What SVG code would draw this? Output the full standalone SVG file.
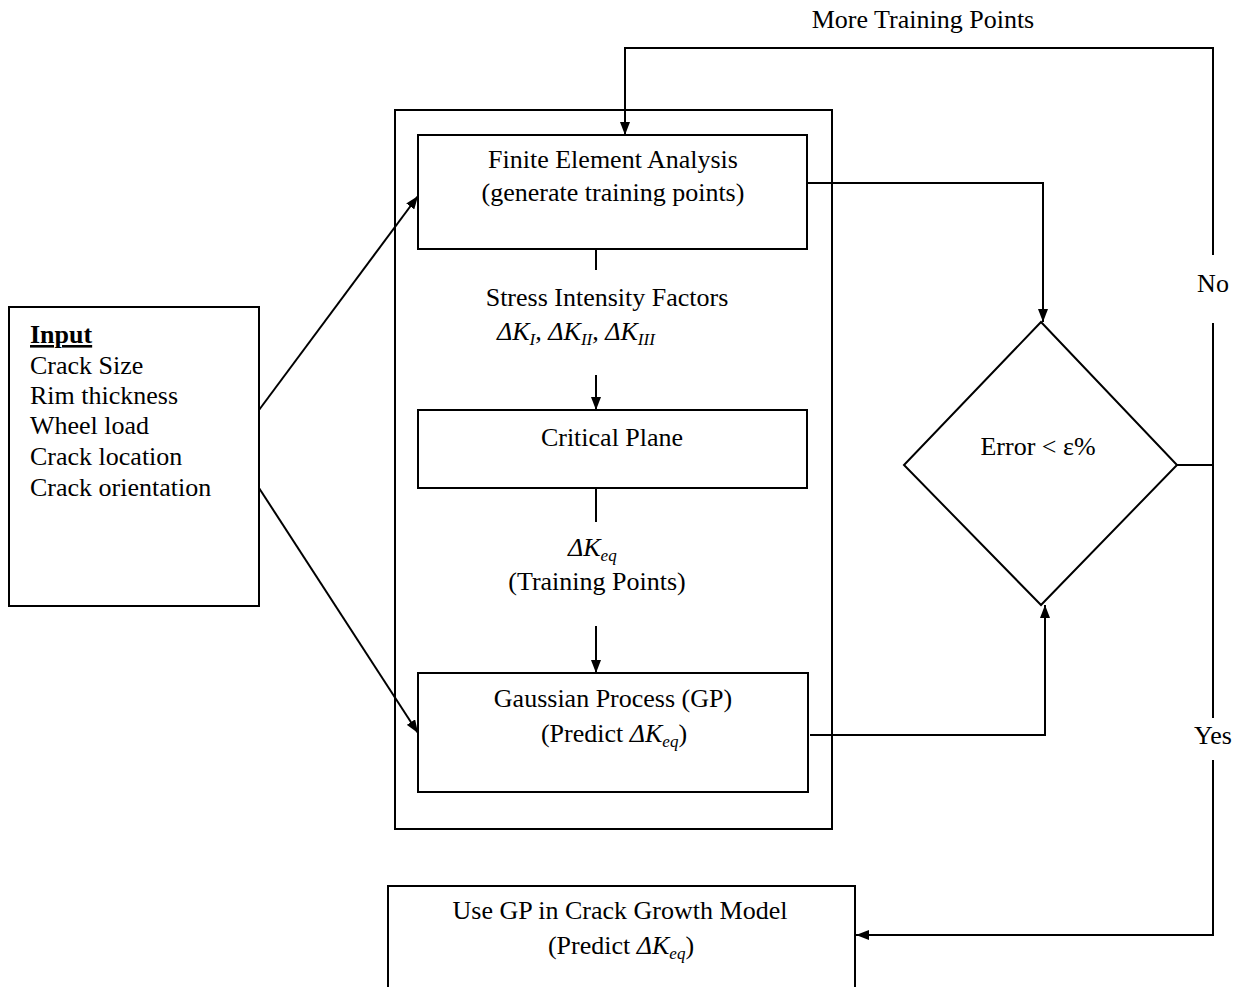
<svg xmlns="http://www.w3.org/2000/svg" width="1249" height="987" viewBox="0 0 1249 987">
  <style>
    .box { fill: #fff; stroke: #000; stroke-width: 2; }
    .ln { fill: none; stroke: #000; stroke-width: 2; }
    .t { font-family: 'Liberation Serif', 'Times New Roman', Times, 'DejaVu Serif', serif; font-size: 26px; fill: #000; }
    .c { text-anchor: middle; }
    .i { font-style: italic; }
    .sub { font-size: 17px; font-style: italic; }
  </style>
  <defs>
    <marker id="arr" viewBox="0 0 13 10" refX="13" refY="5" markerWidth="13" markerHeight="10" markerUnits="userSpaceOnUse" orient="auto">
      <path d="M0,0 L13,5 L0,10 Z" fill="#000"/>
    </marker>
  </defs>
  <rect width="1249" height="987" fill="#fff"/>

  <!-- enclosing frame around the surrogate pipeline -->
  <g id="frame">
    <rect class="box" x="395" y="110" width="437" height="719" fill="none"/>
  </g>

  <g id="input">
    <rect class="box" x="9" y="307" width="250" height="299"/>
    <text class="t" x="30" y="343" font-weight="bold" text-decoration="underline">Input</text>
    <text class="t" x="30" y="374">Crack Size</text>
    <text class="t" x="30" y="404">Rim thickness</text>
    <text class="t" x="30" y="434">Wheel load</text>
    <text class="t" x="30" y="465">Crack location</text>
    <text class="t" x="30" y="496">Crack orientation</text>
  </g>

  <g id="fea">
    <rect class="box" x="418" y="135" width="389" height="114"/>
    <text class="t c" x="613" y="168">Finite Element Analysis</text>
    <text class="t c" x="613" y="201">(generate training points)</text>
  </g>

  <g id="sif-label">
    <text class="t c" x="607" y="306">Stress Intensity Factors</text>
    <text class="t i" x="497" y="340">ΔK<tspan class="sub" dy="5">I</tspan><tspan dy="-5">, ΔK</tspan><tspan class="sub" dy="5">II</tspan><tspan dy="-5">, ΔK</tspan><tspan class="sub" dy="5">III</tspan></text>
  </g>

  <g id="critical-plane">
    <rect class="box" x="418" y="410" width="389" height="78"/>
    <text class="t c" x="612" y="446">Critical Plane</text>
  </g>

  <g id="keq-label">
    <text class="t i" x="568" y="556">ΔK<tspan class="sub" dy="5">eq</tspan></text>
    <text class="t c" x="597" y="590">(Training Points)</text>
  </g>

  <g id="gp">
    <rect class="box" x="418" y="673" width="390" height="119"/>
    <text class="t c" x="613" y="707">Gaussian Process (GP)</text>
    <text class="t c" x="614" y="742">(Predict <tspan class="i">ΔK</tspan><tspan class="sub" dy="5">eq</tspan><tspan dy="-5">)</tspan></text>
  </g>

  <g id="decision">
    <polygon class="box" points="1041,322 1177,465 1041,605 904,465"/>
    <text class="t c" x="1038" y="455">Error &lt; ε%</text>
  </g>

  <g id="crack-growth">
    <rect class="box" x="388" y="886" width="467" height="110"/>
    <text class="t c" x="620" y="919">Use GP in Crack Growth Model</text>
    <text class="t c" x="621" y="954">(Predict <tspan class="i">ΔK</tspan><tspan class="sub" dy="5">eq</tspan><tspan dy="-5">)</tspan></text>
  </g>

  <g id="labels">
    <text class="t c" x="923" y="28">More Training Points</text>
    <text class="t c" x="1213" y="292">No</text>
    <text class="t c" x="1213" y="744">Yes</text>
  </g>

  <g id="connectors">
    <line class="ln" x1="259" y1="410" x2="418" y2="196" marker-end="url(#arr)"/>
    <line class="ln" x1="259" y1="488" x2="418" y2="733" marker-end="url(#arr)"/>
    <line class="ln" x1="596" y1="249" x2="596" y2="270"/>
    <line class="ln" x1="596" y1="375" x2="596" y2="410" marker-end="url(#arr)"/>
    <line class="ln" x1="596" y1="488" x2="596" y2="522"/>
    <line class="ln" x1="596" y1="626" x2="596" y2="673" marker-end="url(#arr)"/>
    <polyline class="ln" points="807,183 1043,183 1043,322" marker-end="url(#arr)"/>
    <polyline class="ln" points="810,735 1045,735 1045,605" marker-end="url(#arr)"/>
    <line class="ln" x1="1177" y1="465" x2="1213" y2="465"/>
    <polyline class="ln" points="1213,255 1213,48 625,48 625,135" marker-end="url(#arr)"/>
    <line class="ln" x1="1213" y1="323" x2="1213" y2="718"/>
    <polyline class="ln" points="1213,760 1213,935 856,935" marker-end="url(#arr)"/>
  </g>
</svg>
